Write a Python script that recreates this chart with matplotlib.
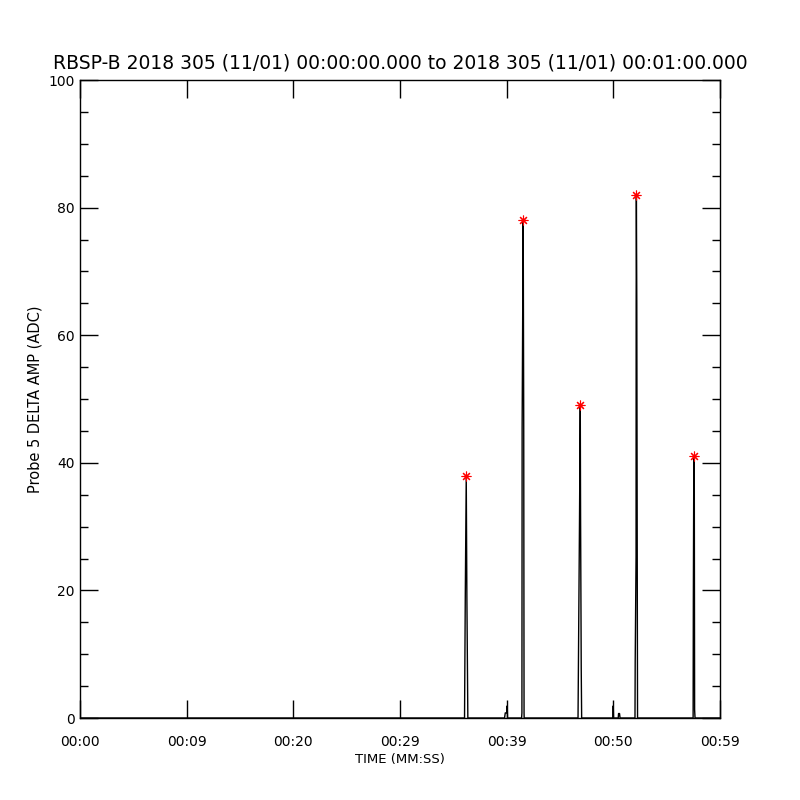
import numpy as np
import matplotlib
matplotlib.use('Agg')
import matplotlib.pyplot as plt
from matplotlib.ticker import MultipleLocator

# time in seconds after 00:00:00, amplitude in ADC
t_sec = [0.0,
         36.05, 36.12, 36.21, 36.27, 36.36,
         39.80, 39.87, 40.00, 40.05, 40.08,
         41.40, 41.43, 41.45, 41.51, 41.55, 41.60, 41.63, 41.64,
         46.69, 46.72, 46.83, 46.90, 46.93, 46.99, 47.03,
         49.96, 49.99, 50.02, 50.46, 50.49, 50.58, 50.63,
         52.03, 52.05, 52.13, 52.14, 52.16, 52.20, 52.24, 52.27,
         57.48, 57.50, 57.54, 57.56, 57.59, 57.62, 57.66,
         60.0]
amp = [0.0,
       0.0, 19.0, 38.0, 19.0, 0.0,
       0.0, 0.8, 0.8, 1.9, 0.0,
       0.0, 0.8, 45.4, 66.0, 78.0, 45.4, 0.8, 0.0,
       0.0, 6.7, 31.4, 49.0, 31.4, 7.8, 0.0,
       0.0, 1.9, 0.0, 0.0, 0.7, 0.7, 0.0,
       0.0, 8.8, 25.3, 65.0, 82.0, 65.0, 25.3, 0.0,
       0.0, 18.2, 38.2, 41.0, 38.2, 1.3, 0.0,
       0.0]

xtick_pos = [0, 10, 20, 30, 40, 50, 60]
xtick_lab = ['00:00', '00:09', '00:20', '00:29', '00:39', '00:50', '00:59']
title = 'RBSP-B 2018 305 (11/01) 00:00:00.000 to 2018 305 (11/01) 00:01:00.000'

t = np.array(t_sec)
a = np.array(amp)
# peaks: local maxima above 10 ADC
pk = [i for i in range(1, len(a) - 1) if a[i] > 10 and a[i] >= a[i - 1] and a[i] >= a[i + 1]]

fig = plt.figure(figsize=(8, 8), dpi=100)
ax = fig.add_axes([0.1, 0.1025, 0.8, 0.7975])
ax.plot(t, a, color='black', lw=1.0)
ax.plot(t[pk], a[pk], linestyle='none', marker=(8, 2, 0), color='red',
        markersize=7, mew=0.8)

ax.set_xlim(0, 60)
ax.set_ylim(0, 100)
ax.set_xticks(xtick_pos)
ax.set_xticklabels(xtick_lab)
ax.yaxis.set_major_locator(MultipleLocator(20))
ax.yaxis.set_minor_locator(MultipleLocator(5))
ax.tick_params(axis='both', which='major', direction='in', length=13, width=1,
               top=True, right=True, labelsize=10, colors='black')
ax.tick_params(axis='y', which='minor', direction='in', length=6, width=1,
               right=True)
ax.tick_params(axis='x', pad=12)
ax.tick_params(axis='y', pad=4)
for s in ax.spines.values():
    s.set_linewidth(1)

ax.set_title(title, fontsize=13.5, pad=8)
ax.set_xlabel('TIME (MM:SS)', fontsize=9.5, labelpad=3)
ax.set_ylabel('Probe 5 DELTA AMP (ADC)', fontsize=10.5, labelpad=4)

fig.savefig('out.png', dpi=100, facecolor='white')
